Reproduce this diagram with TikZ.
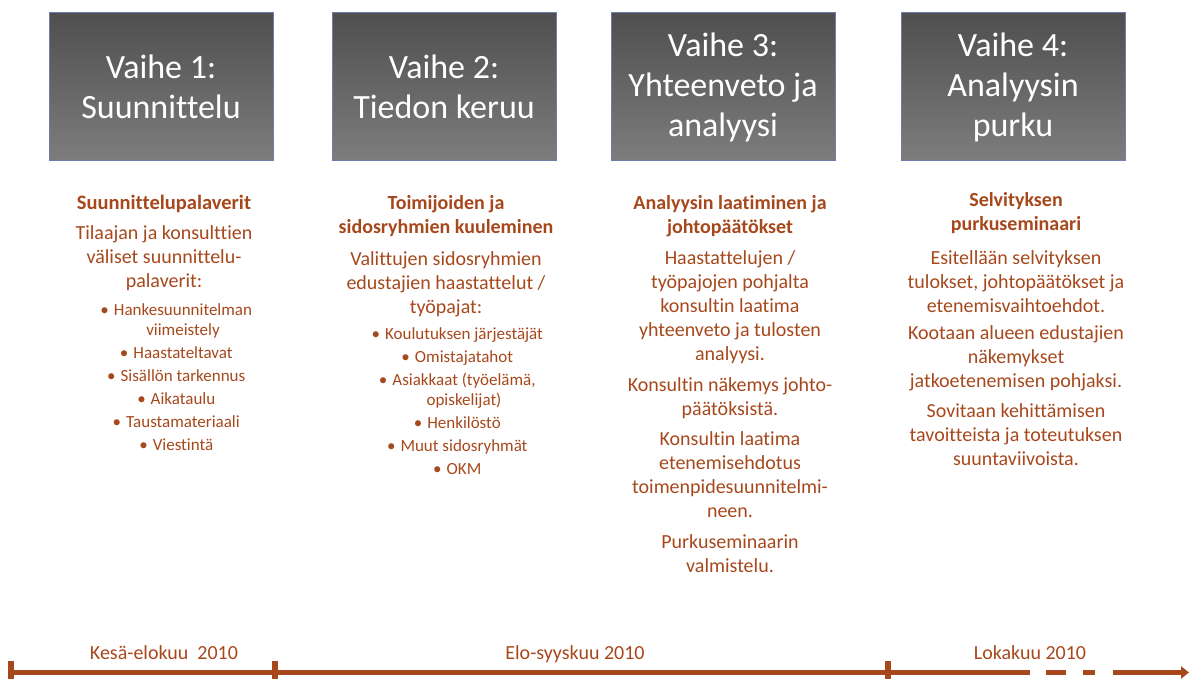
\documentclass[tikz,border=0pt]{standalone}
\usepackage{fontspec}
\setmainfont[Ligatures={NoCommon}]{Carlito}
\usetikzlibrary{positioning,arrows.meta}

\definecolor{rust}{RGB}{166,72,28}
\definecolor{phaseedge}{RGB}{112,124,170}
\newcommand{\itm}{\llap{\textbullet\hspace{5pt}}}

\begin{document}
\begin{tikzpicture}[
    x=1pt, y=1pt,
    phase/.style={rectangle, draw=phaseedge, line width=1pt, top color=black!69, bottom color=black!51, minimum width=224pt, minimum height=148pt, align=center, text=white, font=\fontsize{34}{40}\selectfont},
    desc/.style={align=center, text=rust, inner sep=0pt, font=\fontsize{20}{24}\selectfont},
    items/.style={align=center, text=rust, inner sep=0pt, font=\fontsize{17}{20}\selectfont},
    period/.style={anchor=base, text=rust, inner sep=0pt, font=\fontsize{20}{24}\selectfont},
    timeline/.style={draw=rust, line width=5pt},
    tick/.style={draw=rust, line width=6pt}
]
\useasboundingbox (0,0) rectangle (1189,679);

% phase boxes
\node[phase] (v1) at (161,592) {Vaihe 1:\\Suunnittelu};
\node[phase] (v2) at (444,592) {Vaihe 2:\\Tiedon keruu};
\node[phase] (v3) at (723,592) {Vaihe 3:\\Yhteenveto ja\\analyysi};
\node[phase] (v4) at (1013,592) {Vaihe 4:\\Analyysin\\purku};

% descriptions
\node[desc, below=33pt of v1, xshift=3pt] (d1) {\textbf{\fontsize{20.5}{24}\selectfont Suunnittelupalaverit}\\[6pt]
    Tilaajan ja konsulttien\\väliset suunnittelu-\\palaverit:};
\node[items, below=13pt of d1, xshift=19pt] (l1) {\itm Hankesuunnitelman\\viimeistely\\[3pt]
    \itm Haastateltavat\\[3pt]\itm Sisällön tarkennus\\[3pt]\itm Aikataulu\\[3pt]
    \itm Taustamateriaali\\[3pt]\itm Viestintä};

\node[desc, below=34pt of v2, xshift=2pt] (d2) {\textbf{Toimijoiden ja}\\\textbf{sidosryhmien kuuleminen}\\[8pt]
    Valittujen sidosryhmien\\edustajien haastattelut /\\työpajat:};
\node[items, below=10pt of d2, xshift=18pt] (l2) {\itm Koulutuksen järjestäjät\\[3pt]
    \itm Omistajatahot\\[3pt]\itm Asiakkaat (työelämä,\\opiskelijat)\\[3pt]
    \itm Henkilöstö\\[3pt]\itm Muut sidosryhmät\\[3pt]\itm OKM};

\node[desc, below=34pt of v3, xshift=7pt] (d3) {\textbf{Analyysin laatiminen ja}\\\textbf{johtopäätökset}\\[6.5pt]
    Haastattelujen /\\työpajojen pohjalta\\konsultin laatima\\yhteenveto ja tulosten\\analyysi.\\[7pt]
    Konsultin näkemys johto-\\päätöksistä.\\[6.5pt]
    Konsultin laatima\\etenemisehdotus\\toimenpidesuunnitelmi-\\neen.\\[6.5pt]
    Purkuseminaarin\\valmistelu.};

\node[desc, below=31pt of v4, xshift=3pt] (d4) {\textbf{Selvityksen}\\\textbf{purkuseminaari}\\[10pt]
    Esitellään selvityksen\\tulokset, johtopäätökset ja\\etenemisvaihtoehdot.\\[3pt]
    Kootaan alueen edustajien\\näkemykset\\jatkoetenemisen pohjaksi.\\[6pt]
    Sovitaan kehittämisen\\tavoitteista ja toteutuksen\\suuntaviivoista.};

% timeline
\coordinate (t0) at (11,6.5);
\coordinate (t1) at (275,6.5);
\coordinate (t2) at (888,6.5);
\coordinate (s1) at (1030,6.5);
\coordinate (g1) at (1046,6.5);
\coordinate (g2) at (1066,6.5);
\coordinate (g3) at (1083,6.5);
\coordinate (g4) at (1095,6.5);
\coordinate (a0) at (1113,6.5);
\coordinate (a1) at (1189,6.5);

\draw[timeline] (t0) -- (s1);
\draw[timeline] (g1) -- (g2);
\draw[timeline] (g3) -- (g4);
\draw[timeline, -{Triangle[length=8pt,width=12pt]}] (a0) -- (a1);
\foreach \t in {t0,t1,t2}
    \draw[tick] ([yshift=-6.5pt]\t) -- ([yshift=11.5pt]\t);

\node[period] (p1) at (164,19) {Kesä-elokuu\ \ 2010};
\node[period] (p2) at (575,19) {Elo-syyskuu 2010};
\node[period] (p3) at (1030,19) {Lokakuu 2010};

\end{tikzpicture}
\end{document}
